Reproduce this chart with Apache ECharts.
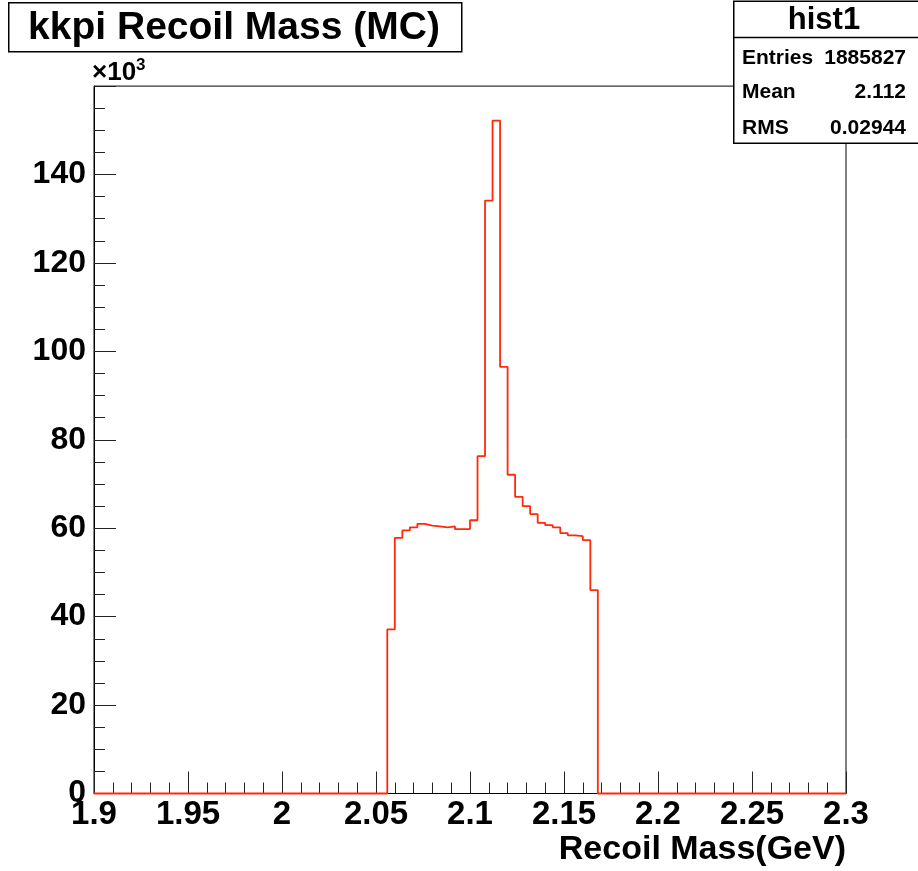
<!DOCTYPE html>
<html>
<head>
<meta charset="utf-8">
<script src="https://cdn.jsdelivr.net/npm/echarts@6/dist/echarts.min.js"></script>
<style>
  html, body { margin: 0; padding: 0; background: #fff; }
  #chart { width: 918px; height: 871px; }
</style>
</head>
<body>
<div id="chart"></div>
<script>
// Histogram binning: 100 bins from 1.9 to 2.3 GeV
const xMin = 1.9;
const xMax = 2.3;
const binWidth = 0.004;

// Bin contents in units of 10^3 entries (one value per bin)
const counts = [
  0, 0, 0, 0, 0, 0, 0, 0, 0, 0,
  0, 0, 0, 0, 0, 0, 0, 0, 0, 0,
  0, 0, 0, 0, 0, 0, 0, 0, 0, 0,
  0, 0, 0, 0, 0, 0, 0, 0, 0, 37.1,
  57.8, 59.5, 60.2, 61.0, 60.6, 60.4, 60.2, 60.4, 59.8, 59.8,
  61.8, 76.3, 134.1, 152.2, 96.5, 72.1, 67.1, 65.0, 63.2, 61.2,
  60.7, 60.2, 58.9, 58.4, 58.2, 57.3, 46.0, 0, 0, 0,
  0, 0, 0, 0, 0, 0, 0, 0, 0, 0,
  0, 0, 0, 0, 0, 0, 0, 0, 0, 0,
  0, 0, 0, 0, 0, 0, 0, 0, 0, 0
];

// Statistics box entries
const histName = 'hist1';
const statLabels = ['Entries', 'Mean', 'RMS'];
const statValues = ['1885827', '2.112', '0.02944'];

const titleText = 'kkpi Recoil Mass (MC)';
const xTitle = 'Recoil Mass(GeV)';

// Step outline: each point is a bin's low edge with its content,
// closed with the upper edge of the last bin.
const stepData = counts.map((c, i) => [+(xMin + i * binWidth).toFixed(3), c]);
stepData.push([xMax, counts[counts.length - 1]]);

const FONT = 'Liberation Sans';
const chart = echarts.init(document.getElementById('chart'), null, { renderer: 'canvas' });

const statRowsY = [58, 92, 128];
const statGraphics = [];
statLabels.forEach((lab, i) => {
  statGraphics.push({
    type: 'text', x: 742, y: statRowsY[i], z: 11,
    style: { text: lab, font: 'bold 21px "' + FONT + '"', fill: '#000', textVerticalAlign: 'middle' }
  });
  statGraphics.push({
    type: 'text', x: 906, y: statRowsY[i], z: 11,
    style: { text: statValues[i], font: 'bold 21px "' + FONT + '"', fill: '#000', textAlign: 'right', textVerticalAlign: 'middle' }
  });
});

chart.setOption({
  animation: false,
  backgroundColor: '#fff',
  grid: {
    left: 94, right: 72, top: 86.1, bottom: 77.5,
    show: true, borderColor: '#000', borderWidth: 1, backgroundColor: 'transparent'
  },
  xAxis: {
    type: 'value',
    min: xMin, max: xMax, interval: 0.05,
    axisLine: { show: true, onZero: false, lineStyle: { color: '#000', width: 1 } },
    axisTick: { show: true, inside: true, length: 22, lineStyle: { color: '#222', width: 1 } },
    minorTick: { show: true, splitNumber: 5, length: 11, lineStyle: { color: '#222', width: 1 } },
    splitLine: { show: false },
    axisLabel: {
      margin: 5,
      fontFamily: FONT, fontWeight: 'bold', fontSize: 33, color: '#000',
      formatter: v => String(+v.toFixed(3))
    }
  },
  yAxis: {
    type: 'value',
    min: 0, max: 160, interval: 20,
    axisLine: { show: true, lineStyle: { color: '#000', width: 1 } },
    axisTick: { show: true, inside: true, length: 22, lineStyle: { color: '#222', width: 1 } },
    minorTick: { show: true, splitNumber: 4, length: 11, lineStyle: { color: '#222', width: 1 } },
    splitLine: { show: false },
    axisLabel: {
      margin: 8, showMaxLabel: false,
      fontFamily: FONT, fontWeight: 'bold', fontSize: 32, color: '#000',
      formatter: v => (v >= 160 ? '' : String(Math.round(v)))
    }
  },
  series: [{
    type: 'line',
    step: 'end',
    data: stepData,
    symbol: 'none',
    clip: false,
    z: 5,
    lineStyle: { color: '#ff2a0a', width: 1.8 }
  }],
  graphic: [
    // Title box
    {
      type: 'rect', left: 8, top: 2, z: 10,
      shape: { width: 453, height: 49 },
      style: { fill: '#fff', stroke: '#000', lineWidth: 1.5 }
    },
    {
      type: 'text', z: 11, x: 234, y: 28,
      style: { text: titleText, font: 'bold 39px "' + FONT + '"', fill: '#000', textAlign: 'center', textVerticalAlign: 'middle' }
    },
    // Axis exponent
    {
      type: 'text', left: 92, top: 57, z: 10,
      style: {
        text: '{b|×10}{s|3}',
        rich: {
          b: { font: 'bold 26px "' + FONT + '"', fill: '#000', verticalAlign: 'bottom' },
          s: { font: 'bold 17px "' + FONT + '"', fill: '#000', verticalAlign: 'top', padding: [0, 0, 12, 0] }
        }
      }
    },
    // Statistics box
    {
      type: 'rect', left: 733, top: 0.5, z: 10,
      shape: { width: 200, height: 142 },
      style: { fill: '#fff', stroke: '#000', lineWidth: 1.5 }
    },
    {
      type: 'line', z: 11,
      shape: { x1: 733, y1: 37.5, x2: 918, y2: 37.5 },
      style: { stroke: '#000', lineWidth: 1.5 }
    },
    {
      type: 'text', z: 11, x: 824, y: 20,
      style: { text: histName, font: 'bold 31px "' + FONT + '"', fill: '#000', textAlign: 'center', textVerticalAlign: 'middle' }
    },
    ...statGraphics,
    // Axis title
    {
      type: 'text', z: 10, x: 846, y: 850,
      style: { text: xTitle, font: 'bold 34px "' + FONT + '"', fill: '#000', textAlign: 'right', textVerticalAlign: 'middle' }
    }
  ]
});
</script>
</body>
</html>
